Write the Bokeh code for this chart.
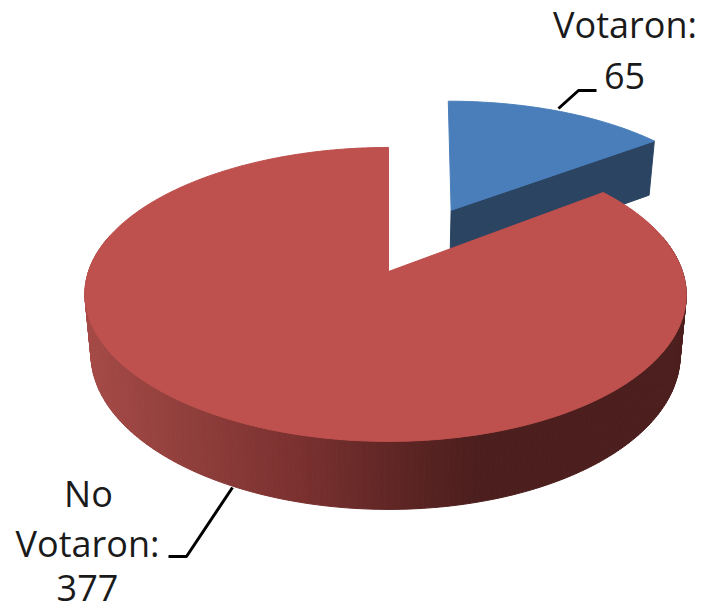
import numpy as np
from bokeh.plotting import figure
from bokeh.models import Range1d
from bokeh.core.properties import value
from bokeh.embed import file_html
from bokeh.resources import INLINE

categories = ["Votaron", "No Votaron"]
votes = [65, 377]

FONT = value("Open Sans")
TOP_COLORS = ["#4A7EBB", "#BE504D"]
CUT_BLUE = "#2A4462"

# projection of the pie disc (u right, v away from viewer) onto the page
X0, Y0, A, B, K = 388.0, 271.0, 297.0, 143.4, 0.156
X0B, Y0B, AB, BB = 388.0, 330.0, 291.0, 151.0
EXPLODE = 0.5
SKEW = 3.0


def top(u, v):
    w = 1 + K * v
    return X0 + A * u / w - SKEW * u * u, Y0 - B * v / w


def bottom(u, v):
    w = 1 + K * v
    return X0B + AB * u / w - SKEW * u * u, Y0B - BB * v / w


def disc(t):
    return np.sin(t), np.cos(t)


fractions = np.array(votes, dtype=float) / sum(votes)
edges = np.concatenate([[0.0], np.cumsum(fractions)]) * 2 * np.pi

p = figure(width=704, height=612, output_backend="svg", toolbar_location=None,
           x_range=Range1d(0, 704), y_range=Range1d(612, 0),
           min_border=0, outline_line_color=None)
p.axis.visible = False
p.grid.visible = False
p.background_fill_color = "white"
p.border_fill_color = "white"

# exploded slice (first category)
mid = (edges[0] + edges[1]) / 2
ou, ov = EXPLODE * np.sin(mid), EXPLODE * np.cos(mid) + 0.01
t = np.linspace(edges[0], edges[1], 80)
u, v = disc(t)


def blue_fix(x, ur, vr):
    return x + 5 * vr + 6 * ur + 1.0


x_arc, y_arc = top(u + ou, v + ov)
x_arc = blue_fix(x_arc, u, v)
ax, ay = top(ou, ov)
ax = blue_fix(ax, 0, 0)
bx_end, by_end = bottom(u[-1] + ou, v[-1] + ov)
bx_end = blue_fix(bx_end, u[-1], v[-1])
bax, bay = bottom(ou, ov)
bax = blue_fix(bax, 0, 0)
p.patch([ax, x_arc[-1], bx_end, bax], [ay, y_arc[-1], by_end + 2, bay],
        fill_color=CUT_BLUE, line_color=CUT_BLUE, line_width=1)
p.patch(np.r_[ax, x_arc], np.r_[ay, y_arc], fill_color=TOP_COLORS[0], line_color=TOP_COLORS[0], line_width=1)

# large slice: shaded side wall, then top
t = np.linspace(edges[1], edges[2], 300)
u, v = disc(t)
tx, ty = top(u, v)
bx, by = bottom(u, v)
shade_x = [85, 180, 300, 400, 470, 700]
shade_r = [0xA6, 0x92, 0x7A, 0x5E, 0x4D, 0x4C]
shade_g = [0x4B, 0x40, 0x31, 0x26, 0x1F, 0x1F]
shade_b = [0x48, 0x3D, 0x30, 0x24, 0x1E, 0x1E]
xs, ys, cols = [], [], []
for i in range(len(t) - 1):
    if not (np.cos(t[i]) < 0.25):
        continue
    xs.append([tx[i], tx[i + 1], bx[i + 1], bx[i]])
    ys.append([ty[i], ty[i + 1], by[i + 1], by[i]])
    m = (tx[i] + tx[i + 1] + bx[i] + bx[i + 1]) / 4
    cols.append("#%02X%02X%02X" % (int(np.interp(m, shade_x, shade_r)),
                                   int(np.interp(m, shade_x, shade_g)),
                                   int(np.interp(m, shade_x, shade_b))))
p.patches(xs, ys, fill_color=cols, line_color=cols, line_width=1)
cx, cy = top(0, 0)
p.patch(np.r_[cx, tx], np.r_[cy, ty], fill_color=TOP_COLORS[1], line_color=TOP_COLORS[1], line_width=1)

# leader lines
p.line([558, 578, 596], [108, 90, 90], line_color="black", line_width=3)
p.line([232, 186, 168], [487, 556, 556], line_color="black", line_width=3)

# labels
p.text([624.5, 624], [24, 75], text=[f"{categories[0]}:", str(votes[0])],
       text_font=FONT, text_font_size="36px", text_align="center",
       text_baseline="alphabetic", text_color="#1A1A1A")
p.text([88, 87, 87], [493, 543, 587], text=["No", "Votaron:", str(votes[1])],
       text_font=FONT, text_font_size="36px", text_align="center",
       text_baseline="alphabetic", text_color="#1A1A1A")

open("out.html", "w").write(file_html(p, INLINE))
